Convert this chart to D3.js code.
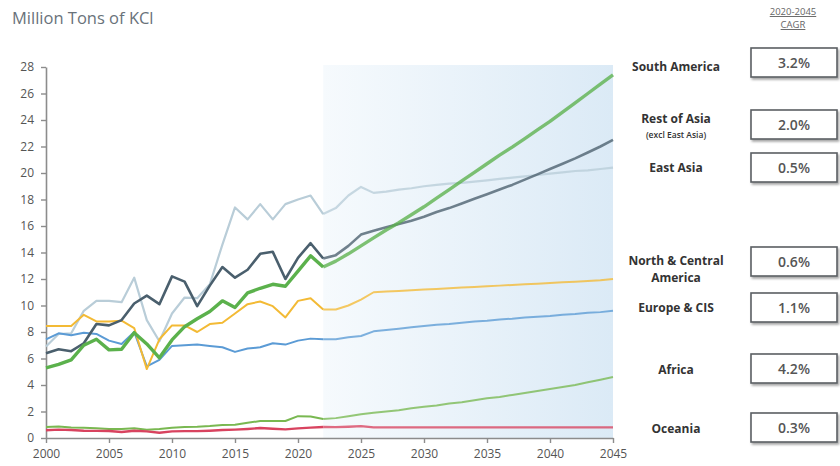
<!DOCTYPE html>
<html>
<head>
<meta charset="utf-8">
<script src="https://cdn.jsdelivr.net/npm/d3@7"></script>
<style>
  body { margin: 0; background: #fff; }
  svg { display: block; }
</style>
</head>
<body>
<div id="chart"></div>
<script>
// years on the x axis
var years = d3.range(2000, 2046);
var forecastStart = 2022;

// Million tons of KCl, one value per year 2000..2045
var eastAsia = [6.9, 7.85, 7.9, 9.6, 10.35, 10.35, 10.25, 12.1, 8.9, 7.3,
  9.4, 10.6, 10.55, 11.6, 14.6, 17.4, 16.5, 17.65, 16.5, 17.65,
  18.0, 18.3, 16.9, 17.35, 18.3, 18.95, 18.5, 18.6, 18.75, 18.85,
  19.0, 19.1, 19.2, 19.25, 19.35, 19.45, 19.55, 19.65, 19.75, 19.85,
  19.95, 20.05, 20.15, 20.2, 20.3, 20.4];
var restOfAsia = [6.4, 6.7, 6.55, 7.15, 8.6, 8.5, 8.9, 10.15, 10.75, 10.1,
  12.2, 11.8, 9.95, 11.5, 12.9, 12.1, 12.7, 13.9, 14.05, 12.0,
  13.6, 14.7, 13.55, 13.8, 14.5, 15.35, 15.65, 15.9, 16.15, 16.4,
  16.7, 17.05, 17.35, 17.7, 18.05, 18.4, 18.75, 19.1, 19.5, 19.9,
  20.3, 20.7, 21.1, 21.55, 22.0, 22.5];
var southAmerica = [5.3, 5.55, 5.9, 7.0, 7.45, 6.65, 6.7, 7.95, 7.1, 6.05,
  7.4, 8.4, 9.0, 9.55, 10.35, 9.85, 10.95, 11.3, 11.6, 11.45,
  12.6, 13.75, 12.9, 13.35, 13.9, 14.5, 15.1, 15.7, 16.25, 16.85,
  17.45, 18.1, 18.75, 19.4, 20.05, 20.7, 21.35, 21.95, 22.6, 23.25,
  23.9, 24.6, 25.3, 26.0, 26.7, 27.4];
var northCentralAmerica = [8.45, 8.45, 8.45, 9.3, 8.8, 8.8, 8.85, 8.3, 5.2, 7.45,
  8.5, 8.5, 8.0, 8.6, 8.7, 9.4, 10.1, 10.3, 9.95, 9.1,
  10.35, 10.55, 9.7, 9.7, 10.0, 10.45, 11.0, 11.05, 11.1, 11.15,
  11.2, 11.25, 11.3, 11.35, 11.4, 11.45, 11.5, 11.55, 11.6, 11.65,
  11.7, 11.75, 11.8, 11.85, 11.9, 12.0];
var europeCIS = [7.45, 7.9, 7.75, 7.95, 7.85, 7.35, 7.1, 8.0, 5.4, 5.9,
  6.95, 7.0, 7.05, 6.95, 6.85, 6.5, 6.75, 6.85, 7.15, 7.05,
  7.35, 7.5, 7.45, 7.45, 7.6, 7.7, 8.05, 8.15, 8.25, 8.35,
  8.45, 8.55, 8.6, 8.7, 8.8, 8.85, 8.95, 9.0, 9.1, 9.15,
  9.2, 9.3, 9.35, 9.45, 9.5, 9.6];
var africa = [0.83, 0.87, 0.8, 0.77, 0.73, 0.68, 0.68, 0.73, 0.63, 0.68,
  0.78, 0.83, 0.85, 0.9, 0.98, 1.0, 1.15, 1.28, 1.28, 1.28,
  1.65, 1.63, 1.43, 1.5, 1.65, 1.8, 1.9, 2.0, 2.1, 2.25,
  2.35, 2.45, 2.6, 2.7, 2.85, 3.0, 3.1, 3.25, 3.4, 3.55,
  3.7, 3.85, 4.0, 4.2, 4.4, 4.6];
var oceania = [0.58, 0.63, 0.6, 0.55, 0.54, 0.53, 0.45, 0.55, 0.5, 0.4,
  0.5, 0.52, 0.52, 0.55, 0.6, 0.63, 0.68, 0.75, 0.7, 0.65,
  0.73, 0.78, 0.83, 0.82, 0.85, 0.9, 0.8, 0.8, 0.8, 0.8,
  0.8, 0.8, 0.8, 0.8, 0.8, 0.8, 0.8, 0.8, 0.8, 0.8,
  0.8, 0.8, 0.8, 0.8, 0.8, 0.8];

// CAGR panel
var regionNames = ["South America", "Rest of Asia", "East Asia", "North & Central",
  "Europe & CIS", "Africa", "Oceania"];
var cagrValues = ["3.2%", "2.0%", "0.5%", "0.6%", "1.1%", "4.2%", "0.3%"];

var yTicks = d3.range(0, 29, 2);
var xTicks = [2000, 2005, 2010, 2015, 2020, 2025, 2030, 2035, 2040, 2045];

// drawing order (back to front) and styles
var series = [
  { values: eastAsia, color: "#b9cdd8", width: 2.2 },
  { values: europeCIS, color: "#5b9bd5", width: 2 },
  { values: northCentralAmerica, color: "#f3ba35", width: 2 },
  { values: restOfAsia, color: "#4a5f6d", width: 2.6 },
  { values: southAmerica, color: "#5bb14c", width: 3.4 },
  { values: africa, color: "#79b851", width: 2 },
  { values: oceania, color: "#d8435f", width: 2.4 }
];

var margin = { top: 67, right: 227, bottom: 28, left: 46 },
    width = 840 - margin.left - margin.right,
    height = 466 - margin.top - margin.bottom;

var svg = d3.select("#chart")
    .append("svg")
    .attr("width", 840)
    .attr("height", 466);

var defs = svg.append("defs");
var grad = defs.append("linearGradient")
    .attr("id", "fcast")
    .attr("x1", "0%").attr("x2", "100%").attr("y1", "0%").attr("y2", "0%");
grad.append("stop").attr("offset", "0%").attr("stop-color", "#f6fafd");
grad.append("stop").attr("offset", "100%").attr("stop-color", "#dbeaf6");

var shadow = defs.append("filter").attr("id", "shadow")
    .attr("x", "-10%").attr("y", "-20%").attr("width", "130%").attr("height", "160%");
shadow.append("feDropShadow")
    .attr("dx", 1.5).attr("dy", 2).attr("stdDeviation", 1.2)
    .attr("flood-color", "#000").attr("flood-opacity", 0.35);

// title
svg.append("text")
    .attr("x", 12)
    .attr("y", 24)
    .attr("font-family", "Open Sans, sans-serif")
    .attr("font-size", 16.5)
    .attr("fill", "#69727a")
    .text("Million Tons of KCl");

var g = svg.append("g")
    .attr("transform", "translate(" + margin.left + "," + margin.top + ")");

var x = d3.scaleLinear().domain([2000, 2045]).range([0, width]);
var y = d3.scaleLinear().domain([0, 28]).range([height, 0]);

// forecast shading
g.append("rect")
    .attr("x", x(forecastStart))
    .attr("y", y(28.15))
    .attr("width", x(2045) - x(forecastStart))
    .attr("height", y(0) - y(28.15))
    .attr("fill", "url(#fcast)");

// axes
var yAxis = d3.axisLeft(y).tickValues(yTicks).tickSize(5).tickSizeOuter(0).tickPadding(7);
var xAxis = d3.axisBottom(x).tickValues(xTicks).tickFormat(d3.format("d"))
    .tickSize(5).tickSizeOuter(0).tickPadding(6);

var gy = g.append("g").call(yAxis);
var gx = g.append("g").attr("transform", "translate(0," + height + ")").call(xAxis);

[gx, gy].forEach(function (a) {
  a.select(".domain").attr("stroke", "#8c8c8c").attr("stroke-width", 1.6);
  a.selectAll(".tick line").attr("stroke", "#8c8c8c").attr("stroke-width", 1.4);
  a.selectAll(".tick text")
      .attr("fill", "#555")
      .attr("font-family", "Open Sans, sans-serif")
      .attr("font-size", 12);
});

// lines
var line = d3.line()
    .x(function (d) { return x(d.year); })
    .y(function (d) { return y(d.value); });

var cut = years.indexOf(forecastStart);

series.forEach(function (s) {
  var pts = years.map(function (yr, i) { return { year: yr, value: s.values[i] }; });
  g.append("path")
      .datum(pts.slice(cut))
      .attr("d", line)
      .attr("fill", "none")
      .attr("stroke", s.color)
      .attr("stroke-width", s.width)
      .attr("stroke-opacity", 0.78)
      .attr("stroke-linejoin", "round");
  g.append("path")
      .datum(pts.slice(0, cut + 1))
      .attr("d", line)
      .attr("fill", "none")
      .attr("stroke", s.color)
      .attr("stroke-width", s.width)
      .attr("stroke-linejoin", "round");
});

// CAGR header
svg.append("text").attr("x", 793).attr("y", 15)
    .attr("text-anchor", "middle").attr("font-family", "Open Sans, sans-serif")
    .attr("font-size", 9.5).attr("fill", "#666")
    .attr("text-decoration", "underline").text("2020-2045");
svg.append("text").attr("x", 793).attr("y", 28)
    .attr("text-anchor", "middle").attr("font-family", "Open Sans, sans-serif")
    .attr("font-size", 9.5).attr("fill", "#666")
    .attr("text-decoration", "underline").text("CAGR");

// box and label placement
var boxTops = [48, 110, 153, 247, 293, 354, 413];
var labelY = [67, 119, 168, 261, 308, 370, 429];

boxTops.forEach(function (top, i) {
  svg.append("rect")
      .attr("x", 751).attr("y", top)
      .attr("width", 86).attr("height", 29)
      .attr("fill", "#fff")
      .attr("stroke", "#5a5f63")
      .attr("stroke-width", 1.6)
      .attr("filter", "url(#shadow)");
  svg.append("text")
      .attr("x", 794).attr("y", top + 15)
      .attr("dy", "0.35em")
      .attr("text-anchor", "middle")
      .attr("font-family", "Open Sans, sans-serif")
      .attr("font-weight", 600)
      .attr("font-size", 14)
      .attr("fill", "#555")
      .text(cagrValues[i]);
  svg.append("text")
      .attr("x", 676).attr("y", labelY[i])
      .attr("dy", "0.35em")
      .attr("text-anchor", "middle")
      .attr("font-family", "Open Sans, sans-serif")
      .attr("font-weight", 700)
      .attr("font-size", 12)
      .attr("fill", "#333")
      .text(regionNames[i]);
});

svg.append("text")
    .attr("x", 676).attr("y", 278).attr("dy", "0.35em")
    .attr("text-anchor", "middle").attr("font-family", "Open Sans, sans-serif")
    .attr("font-weight", 700).attr("font-size", 12).attr("fill", "#333")
    .text("America");
svg.append("text")
    .attr("x", 676).attr("y", 135).attr("dy", "0.35em")
    .attr("text-anchor", "middle").attr("font-family", "Open Sans, sans-serif")
    .attr("font-weight", 600).attr("font-size", 8.5).attr("fill", "#333")
    .text("(excl East Asia)");
</script>
</body>
</html>
